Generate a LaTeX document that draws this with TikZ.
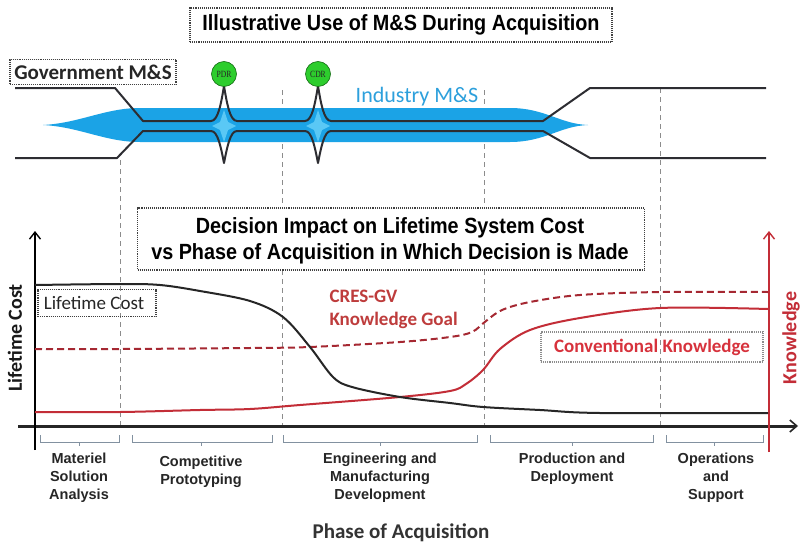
\documentclass[tikz,border=0pt]{standalone}
\usepackage{fontspec}
\setmainfont{Carlito}
\newfontfamily\narrowfont[FakeStretch=0.9]{Liberation Sans}
\newfontfamily\arialfont{Liberation Sans}
\newfontfamily\msfont[FakeStretch=0.8]{Liberation Serif}
\usetikzlibrary{arrows.meta}
\definecolor{bandblue}{RGB}{27,163,230}
\definecolor{glowblue}{RGB}{90,200,245}
\definecolor{indblue}{RGB}{45,160,220}
\definecolor{govline}{RGB}{45,45,50}
\definecolor{mgreen}{RGB}{45,205,45}
\definecolor{mgreendark}{RGB}{20,110,20}
\definecolor{kred}{RGB}{195,45,55}
\definecolor{kreddark}{RGB}{165,40,50}
\definecolor{labred}{RGB}{190,60,60}
\definecolor{convred}{RGB}{215,50,60}
\definecolor{brk}{RGB}{130,145,160}
\definecolor{vgray}{RGB}{140,140,140}
\tikzset{
  vdashline/.style={draw=vgray, line width=0.8pt, dash pattern=on 5pt off 4pt},
  dotbox/.style={draw=black!75, line width=1.1pt, densely dotted, inner sep=0pt},
  govpath/.style={draw=govline, line width=2pt, line join=round},
  milestone/.style={circle, fill=mgreen, draw=mgreendark, line width=0.6pt, minimum size=25pt, inner sep=0pt, font=\msfont\fontsize{9.5}{9.5}\selectfont, text=black!85},
  bigtitle/.style={font=\narrowfont\bfseries\fontsize{22}{26}\selectfont, align=center},
  phaselab/.style={font=\arialfont\bfseries\fontsize{14.5}{18}\selectfont, align=center, text=black!85},
  bracketline/.style={draw=brk, line width=0.9pt},
  costcurve/.style={draw=black!85, line width=2pt},
  knowcurve/.style={draw=kred, line width=2pt},
  goalcurve/.style={draw=kreddark, line width=2pt, dash pattern=on 7pt off 4pt},
}
\begin{document}
\begin{tikzpicture}[x=1pt,y=-1pt]
\useasboundingbox (0,0) rectangle (800,543);
\fill[white] (0,0) rectangle (800,543);

% dashed vertical phase separators
\coordinate (v1t) at (120,160); \coordinate (v1b) at (120,426);
\coordinate (v2t) at (282,90);  \coordinate (v2b) at (282,426);
\coordinate (v3t) at (484,90);  \coordinate (v3b) at (484,426);
\coordinate (v4t) at (660,88);  \coordinate (v4b) at (660,426);
\draw[vdashline] (v1t) -- (v1b);
\draw[vdashline] (v2t) -- (v2b);
\draw[vdashline] (v3t) -- (v3b);
\draw[vdashline] (v4t) -- (v4b);

% ---------- top part ----------
\node[dotbox, minimum width=422pt, minimum height=34pt, fill=white] (titlebox) at (401,25) {};
\node[bigtitle] (title) at (401,25) {Illustrative Use of M\&S During Acquisition};

\node[dotbox, minimum width=166pt, minimum height=25pt] (govbox) at (93,72) {};
\node[font=\bfseries\fontsize{21}{22}\selectfont, text=black!85] (gov) at (93,72) {Government M\&S};

% blue band
\fill[bandblue] (43,125) .. controls (80,123) and (105,108) .. (140,108) -- (510,108)
  .. controls (545,108) and (560,124) .. (588,125)
  .. controls (560,126) and (545,142) .. (510,142) -- (140,142)
  .. controls (105,142) and (80,127) .. (43,125) -- cycle;
% light glow at milestone crossings
\foreach \cx in {224,318}{
  \fill[glowblue] (\cx,110) -- (\cx+4,122) -- (\cx+12,126) -- (\cx+4,130) -- (\cx,142) -- (\cx-4,130) -- (\cx-12,126) -- (\cx-4,122) -- cycle;
}

% government / industry lines
\draw[govpath] (15,88) -- (115,88) -- (143,121) -- (211,121)
  .. controls (218,121) and (221,104) .. (224,86)
  .. controls (227,104) and (230,121) .. (237,121) -- (305,121)
  .. controls (312,121) and (315,104) .. (318,86)
  .. controls (321,104) and (324,121) .. (331,121) -- (543,121) -- (590,88) -- (766,88);
\draw[govpath] (15,158) -- (117,158) -- (143,131) -- (211,131)
  .. controls (218,131) and (221,148) .. (224,163)
  .. controls (227,148) and (230,131) .. (237,131) -- (305,131)
  .. controls (312,131) and (315,148) .. (318,163)
  .. controls (321,148) and (324,131) .. (331,131) -- (543,131) -- (590,158) -- (766,158);

\node[milestone] (pdr) at (224,74) {PDR};
\node[milestone] (cdr) at (318,74) {CDR};

\node[font=\fontsize{22}{24}\selectfont, text=indblue] (ind) at (417,97) {Industry M\&S};

% ---------- bottom part ----------
\node[dotbox, minimum width=507pt, minimum height=62pt, fill=white] (decbox) at (391,239) {};
\node[bigtitle] (dec) at (390,241) {Decision Impact on Lifetime System Cost\\vs Phase of Acquisition in Which Decision is Made};

% axes
\coordinate (ya0) at (35,450); \coordinate (ya1) at (35,231);
\coordinate (ra0) at (769,452); \coordinate (ra1) at (769,231);
\coordinate (xa0) at (18,426); \coordinate (xa1) at (798,426);
\draw[black!85, line width=3pt, -{Straight Barb[length=7pt,width=12pt,line width=1.6pt]}] (xa0) -- (xa1);
\draw[black, line width=1.8pt, -{Straight Barb[length=7pt,width=11pt,line width=1.4pt]}] (ya0) -- (ya1);
\draw[kred, line width=1.8pt, -{Straight Barb[length=7pt,width=11pt,line width=1.4pt]}] (ra0) -- (ra1);

\node[rotate=90, font=\bfseries\fontsize{20}{22}\selectfont, text=black!90] (ylab) at (15,338) {Lifetime Cost};
\node[rotate=90, font=\bfseries\fontsize{20}{22}\selectfont, text=kred] (rlab) at (791,338) {Knowledge};

% curves
\draw[goalcurve] plot[smooth, tension=0.55] coordinates {(35,349) (120,349) (250,348) (310,347) (400,342) (450,337) (472,332) (486,321) (502,310) (530,302) (580,295) (660,292) (768,292)};
\draw[knowcurve] plot[smooth, tension=0.55] coordinates {(35,412) (120,412) (200,410) (250,409) (300,405) (400,397) (450,391) (466,384) (483,370) (500,349) (530,330) (580,318) (660,308) (768,309)};
\draw[costcurve] plot[smooth, tension=0.55] coordinates {(35,285) (120,284) (160,285) (200,291) (250,301) (283,317) (310,347) (333,377) (352,387) (400,397) (450,403) (483,407) (540,410) (600,413) (768,413)};

% labels inside plot
\node[dotbox, minimum width=118pt, minimum height=27pt] (lcbox) at (97,303) {};
\node[font=\fontsize{19}{20}\selectfont, text=black!85] (lc) at (94,303) {Lifetime Cost};
\node[font=\bfseries\fontsize{19}{23}\selectfont, text=labred, align=left, anchor=west] (cres) at (326,309) {CRES-GV\\Knowledge Goal};
\node[dotbox, draw=black!45, minimum width=222pt, minimum height=30pt] (ckbox) at (652,347) {};
\node[font=\bfseries\fontsize{19}{20}\selectfont, text=convred] (ck) at (652,347) {Conventional Knowledge};

% phase brackets
\foreach \a/\b/\m in {40/119/79, 132/272/201, 283/477/380, 490/653/572, 666/763/714}{
  \draw[bracketline] (\a,435) -- (\a,442) -- (\b,442) -- (\b,435);
  \draw[bracketline] (\m,442) -- (\m,446);
}
\node[phaselab] (p1) at (79,478) {Materiel\\Solution\\Analysis};
\node[phaselab] (p2) at (201,472) {Competitive\\Prototyping};
\node[phaselab] (p3) at (380,478) {Engineering and\\Manufacturing\\Development};
\node[phaselab] (p4) at (572,469) {Production and\\Deployment};
\node[phaselab] (p5) at (716,478) {Operations\\and\\Support};

\node[font=\bfseries\fontsize{21}{24}\selectfont, text=black!80] (xlab) at (401,533) {Phase of Acquisition};
\end{tikzpicture}
\end{document}
